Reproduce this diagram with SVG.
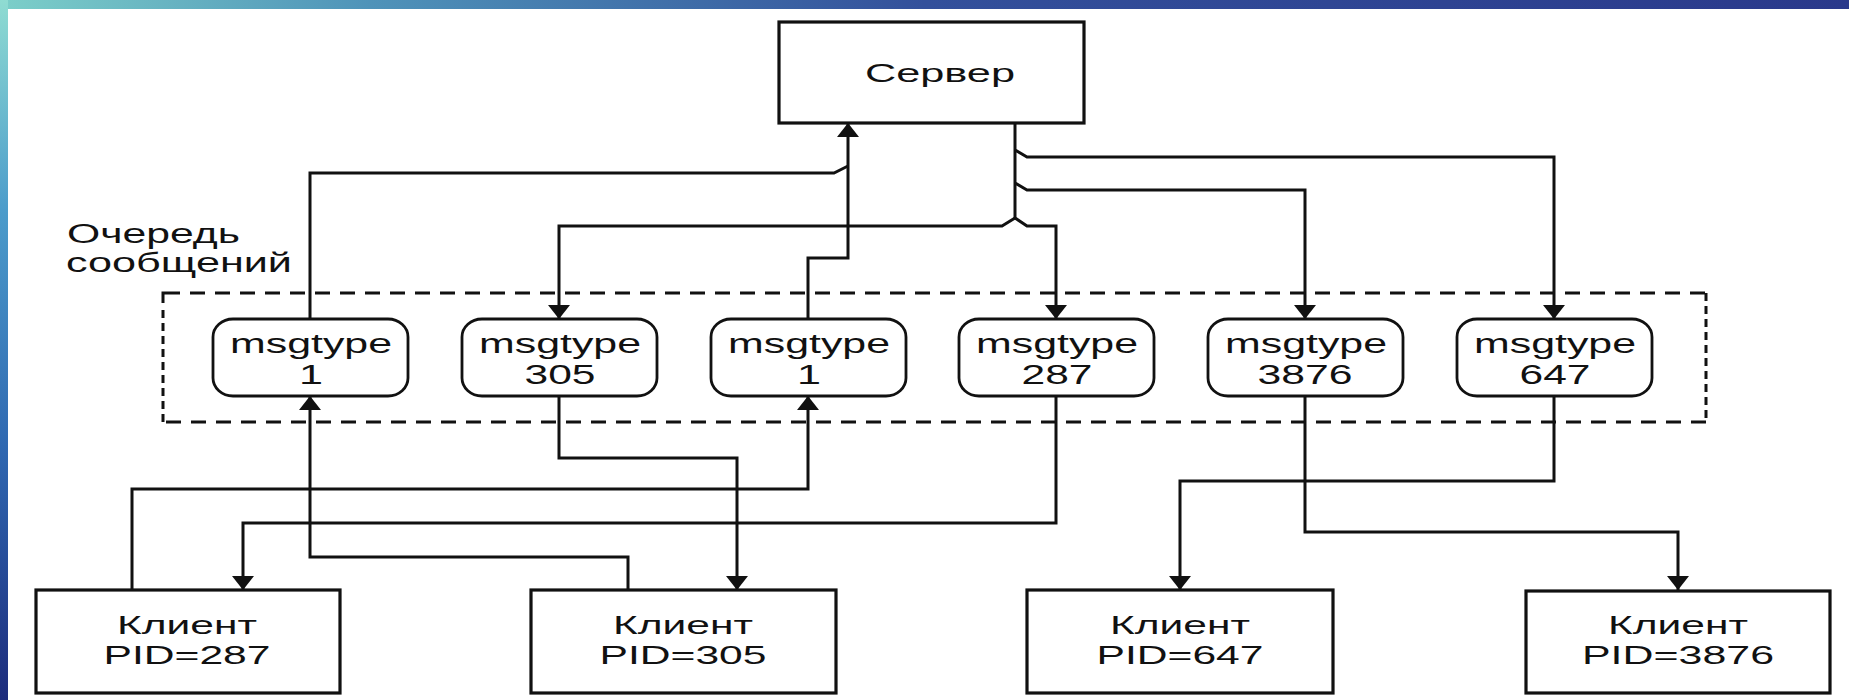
<svg xmlns="http://www.w3.org/2000/svg" width="1849" height="700" viewBox="0 0 1849 700">
<defs>
<linearGradient id="gTop" x1="0" y1="0" x2="1" y2="0">
<stop offset="0" stop-color="#7ccfc9"/>
<stop offset="0.2" stop-color="#4f93b9"/>
<stop offset="0.5" stop-color="#33509b"/>
<stop offset="1" stop-color="#2a398b"/>
</linearGradient>
<linearGradient id="gLeft" x1="0" y1="0" x2="0" y2="1">
<stop offset="0" stop-color="#8fdcd2"/>
<stop offset="0.3" stop-color="#4c9ccb"/>
<stop offset="0.65" stop-color="#2e66b0"/>
<stop offset="1" stop-color="#1d2c7c"/>
</linearGradient>
<marker id="arr" markerUnits="userSpaceOnUse" viewBox="0 0 14 22" markerWidth="14" markerHeight="22" refX="14" refY="11" orient="auto">
<path d="M0,0 L14,11 L0,22 Z" fill="#111"/>
</marker>
<style>
.box{fill:#fff;stroke:#111;stroke-width:3.2}
.mt{fill:#fff;stroke:#111;stroke-width:2.8}
.t{font-family:"Liberation Sans",Arial,sans-serif;fill:#111;text-anchor:middle}
.c{fill:none;stroke:#111;stroke-width:3}
.dh{stroke:#111;stroke-width:3;stroke-dasharray:15 10;fill:none}
.dv{stroke:#111;stroke-width:3;stroke-dasharray:8 5;fill:none}
</style>
</defs>
<rect x="0" y="0" width="1849" height="700" fill="#fff"/>
<rect x="0" y="0" width="1849" height="9" fill="url(#gTop)"/>
<rect x="0" y="0" width="8" height="700" fill="url(#gLeft)"/>

<g id="queue-label">
<text class="t" x="67" y="243" font-size="27" style="text-anchor:start" textLength="173" lengthAdjust="spacingAndGlyphs">Очередь</text>
<text class="t" x="66" y="272" font-size="27" style="text-anchor:start" textLength="226" lengthAdjust="spacingAndGlyphs">сообщений</text>
</g>

<g id="queue">
<path d="M163,303 V293 H180" class="c"/>
<line x1="190" y1="293" x2="1706" y2="293" class="dh"/>
<line x1="1706" y1="293" x2="1706" y2="422" class="dv"/>
<line x1="1706" y1="422" x2="163" y2="422" class="dh"/>
<line x1="163" y1="422" x2="163" y2="308" class="dv"/>
</g>

<g id="connectors">
<path class="c" d="M310,319 V173 H834 L848,166"/>
<path class="c" d="M808,319 V258 H848 V123" marker-end="url(#arr)"/>
<path class="c" d="M1015,123 V218"/>
<path class="c" d="M1015,150 L1027,157 H1554 V319" marker-end="url(#arr)"/>
<path class="c" d="M1015,183 L1027,190 H1305 V319" marker-end="url(#arr)"/>
<path class="c" d="M1015,218 L1002,226 H559 V319" marker-end="url(#arr)"/>
<path class="c" d="M1015,218 L1027,226 H1056 V319" marker-end="url(#arr)"/>
<path class="c" d="M132,590 V489 H808 V396" marker-end="url(#arr)"/>
<path class="c" d="M1056,396 V523 H243 V590" marker-end="url(#arr)"/>
<path class="c" d="M628,590 V557 H310 V396" marker-end="url(#arr)"/>
<path class="c" d="M559,396 V458 H737 V590" marker-end="url(#arr)"/>
<path class="c" d="M1554,396 V481 H1180 V590" marker-end="url(#arr)"/>
<path class="c" d="M1305,396 V532 H1678 V590" marker-end="url(#arr)"/>
</g>

<g id="server">
<rect class="box" x="779" y="22" width="305" height="101" stroke-width="3.5"/>
<text class="t" x="940" y="82" font-size="26" textLength="150" lengthAdjust="spacingAndGlyphs">Сервер</text>
</g>

<g id="mq1">
<rect class="mt" x="213" y="319" width="195" height="77" rx="20" ry="18"/>
<text class="t" x="311" y="353" font-size="27" textLength="162" lengthAdjust="spacingAndGlyphs">msgtype</text>
<text class="t" x="311" y="384" font-size="27" textLength="24" lengthAdjust="spacingAndGlyphs">1</text>
</g>
<g id="mq305">
<rect class="mt" x="462" y="319" width="195" height="77" rx="20" ry="18"/>
<text class="t" x="560" y="353" font-size="27" textLength="162" lengthAdjust="spacingAndGlyphs">msgtype</text>
<text class="t" x="560" y="384" font-size="27" textLength="71" lengthAdjust="spacingAndGlyphs">305</text>
</g>
<g id="mq1b">
<rect class="mt" x="711" y="319" width="195" height="77" rx="20" ry="18"/>
<text class="t" x="809" y="353" font-size="27" textLength="162" lengthAdjust="spacingAndGlyphs">msgtype</text>
<text class="t" x="809" y="384" font-size="27" textLength="24" lengthAdjust="spacingAndGlyphs">1</text>
</g>
<g id="mq287">
<rect class="mt" x="959" y="319" width="195" height="77" rx="20" ry="18"/>
<text class="t" x="1057" y="353" font-size="27" textLength="162" lengthAdjust="spacingAndGlyphs">msgtype</text>
<text class="t" x="1057" y="384" font-size="27" textLength="71" lengthAdjust="spacingAndGlyphs">287</text>
</g>
<g id="mq3876">
<rect class="mt" x="1208" y="319" width="195" height="77" rx="20" ry="18"/>
<text class="t" x="1306" y="353" font-size="27" textLength="162" lengthAdjust="spacingAndGlyphs">msgtype</text>
<text class="t" x="1305" y="384" font-size="27" textLength="95" lengthAdjust="spacingAndGlyphs">3876</text>
</g>
<g id="mq647">
<rect class="mt" x="1457" y="319" width="195" height="77" rx="20" ry="18"/>
<text class="t" x="1555" y="353" font-size="27" textLength="162" lengthAdjust="spacingAndGlyphs">msgtype</text>
<text class="t" x="1555" y="384" font-size="27" textLength="71" lengthAdjust="spacingAndGlyphs">647</text>
</g>

<g id="client287">
<rect class="box" x="36" y="590" width="304" height="103"/>
<text class="t" x="187" y="634" font-size="26" textLength="140" lengthAdjust="spacingAndGlyphs">Клиент</text>
<text class="t" x="187" y="664" font-size="26" textLength="167" lengthAdjust="spacingAndGlyphs">PID=287</text>
</g>
<g id="client305">
<rect class="box" x="531" y="590" width="305" height="103"/>
<text class="t" x="683" y="634" font-size="26" textLength="140" lengthAdjust="spacingAndGlyphs">Клиент</text>
<text class="t" x="683" y="664" font-size="26" textLength="167" lengthAdjust="spacingAndGlyphs">PID=305</text>
</g>
<g id="client647">
<rect class="box" x="1027" y="590" width="306" height="103"/>
<text class="t" x="1180" y="634" font-size="26" textLength="140" lengthAdjust="spacingAndGlyphs">Клиент</text>
<text class="t" x="1180" y="664" font-size="26" textLength="167" lengthAdjust="spacingAndGlyphs">PID=647</text>
</g>
<g id="client3876">
<rect class="box" x="1526" y="591" width="304" height="102"/>
<text class="t" x="1678" y="634" font-size="26" textLength="140" lengthAdjust="spacingAndGlyphs">Клиент</text>
<text class="t" x="1678" y="664" font-size="26" textLength="192" lengthAdjust="spacingAndGlyphs">PID=3876</text>
</g>
</svg>
